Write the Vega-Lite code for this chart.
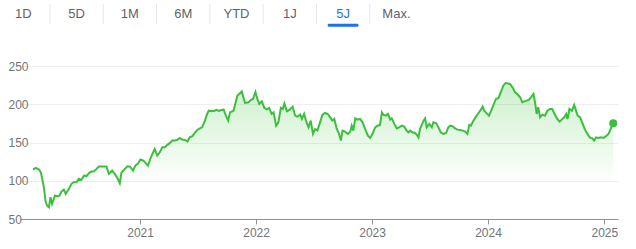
{
  "$schema": "https://vega.github.io/schema/vega-lite/v6.json",
  "padding": {"left": 8, "top": 3, "right": 18, "bottom": 5},
  "background": "white",
  "spacing": 42,
  "bounds": "flush",
  "config": {"view": {"stroke": null}, "font": "Liberation Sans"},
  "datasets": {
    "tabs": [
      {"tab": "1D", "i": 0}, {"tab": "5D", "i": 1}, {"tab": "1M", "i": 2}, {"tab": "6M", "i": 3},
      {"tab": "YTD", "i": 4}, {"tab": "1J", "i": 5}, {"tab": "5J", "i": 6}, {"tab": "Max.", "i": 7}
    ],
    "separators": [
      {"pos": 0.5}, {"pos": 1.5}, {"pos": 2.5}, {"pos": 3.5}, {"pos": 4.5}, {"pos": 5.5}, {"pos": 6.5}
    ],
    "prices": [
      {"date": "2020/01/30", "price": 114.6}, {"date": "2020/02/07", "price": 116.8}, {"date": "2020/02/18", "price": 114.6},
      {"date": "2020/02/24", "price": 110.3}, {"date": "2020/03/02", "price": 96.0}, {"date": "2020/03/05", "price": 89.4},
      {"date": "2020/03/09", "price": 74.0}, {"date": "2020/03/14", "price": 67.6}, {"date": "2020/03/20", "price": 65.4},
      {"date": "2020/03/25", "price": 78.5}, {"date": "2020/03/30", "price": 69.8}, {"date": "2020/04/08", "price": 80.7},
      {"date": "2020/04/16", "price": 79.4}, {"date": "2020/04/23", "price": 80.7}, {"date": "2020/04/28", "price": 85.9},
      {"date": "2020/05/06", "price": 88.5}, {"date": "2020/05/12", "price": 82.9}, {"date": "2020/05/22", "price": 89.4},
      {"date": "2020/05/30", "price": 96.0}, {"date": "2020/06/06", "price": 98.0}, {"date": "2020/06/15", "price": 98.0},
      {"date": "2020/06/22", "price": 102.5}, {"date": "2020/06/30", "price": 101.2}, {"date": "2020/07/09", "price": 106.8},
      {"date": "2020/07/16", "price": 105.9}, {"date": "2020/07/25", "price": 110.3}, {"date": "2020/08/01", "price": 112.0},
      {"date": "2020/08/09", "price": 112.4}, {"date": "2020/08/17", "price": 115.5}, {"date": "2020/08/24", "price": 118.5},
      {"date": "2020/09/01", "price": 118.5}, {"date": "2020/09/12", "price": 118.5}, {"date": "2020/09/17", "price": 118.5},
      {"date": "2020/09/25", "price": 109.0}, {"date": "2020/09/30", "price": 111.1}, {"date": "2020/10/05", "price": 113.3},
      {"date": "2020/10/13", "price": 109.0}, {"date": "2020/10/22", "price": 103.3}, {"date": "2020/10/29", "price": 96.7},
      {"date": "2020/11/03", "price": 110.3}, {"date": "2020/11/14", "price": 115.5}, {"date": "2020/11/22", "price": 118.9},
      {"date": "2020/11/30", "price": 118.5}, {"date": "2020/12/10", "price": 113.3}, {"date": "2020/12/17", "price": 119.8},
      {"date": "2020/12/26", "price": 122.8}, {"date": "2021/01/02", "price": 127.7}, {"date": "2021/01/11", "price": 126.4},
      {"date": "2021/01/18", "price": 123.4}, {"date": "2021/01/26", "price": 119.8}, {"date": "2021/02/04", "price": 130.7},
      {"date": "2021/02/11", "price": 137.2}, {"date": "2021/02/16", "price": 141.6}, {"date": "2021/02/24", "price": 132.9},
      {"date": "2021/03/04", "price": 137.2}, {"date": "2021/03/12", "price": 143.7}, {"date": "2021/03/20", "price": 143.7},
      {"date": "2021/03/28", "price": 146.9}, {"date": "2021/04/05", "price": 149.5}, {"date": "2021/04/12", "price": 152.5},
      {"date": "2021/04/20", "price": 152.5}, {"date": "2021/04/28", "price": 153.4}, {"date": "2021/05/06", "price": 156.0},
      {"date": "2021/05/13", "price": 153.8}, {"date": "2021/05/22", "price": 153.4}, {"date": "2021/05/30", "price": 151.2},
      {"date": "2021/06/06", "price": 156.8}, {"date": "2021/06/14", "price": 158.1}, {"date": "2021/06/22", "price": 162.5},
      {"date": "2021/06/30", "price": 166.4}, {"date": "2021/07/08", "price": 168.5}, {"date": "2021/07/15", "price": 169.8},
      {"date": "2021/07/24", "price": 178.6}, {"date": "2021/07/31", "price": 187.3}, {"date": "2021/08/05", "price": 191.6},
      {"date": "2021/08/13", "price": 191.2}, {"date": "2021/08/22", "price": 191.2}, {"date": "2021/08/29", "price": 192.6},
      {"date": "2021/09/06", "price": 191.2}, {"date": "2021/09/14", "price": 192.6}, {"date": "2021/09/21", "price": 192.9},
      {"date": "2021/09/28", "price": 185.1}, {"date": "2021/10/05", "price": 178.6}, {"date": "2021/10/11", "price": 189.4},
      {"date": "2021/10/22", "price": 191.6}, {"date": "2021/11/03", "price": 211.0}, {"date": "2021/11/17", "price": 216.8},
      {"date": "2021/11/27", "price": 201.7}, {"date": "2021/12/08", "price": 202.5}, {"date": "2021/12/15", "price": 205.6},
      {"date": "2021/12/22", "price": 206.9}, {"date": "2021/12/30", "price": 216.0}, {"date": "2022/01/05", "price": 207.0},
      {"date": "2022/01/11", "price": 200.4}, {"date": "2022/01/19", "price": 203.8}, {"date": "2022/01/27", "price": 195.2},
      {"date": "2022/02/04", "price": 193.4}, {"date": "2022/02/11", "price": 195.2}, {"date": "2022/02/19", "price": 187.3},
      {"date": "2022/02/25", "price": 189.4}, {"date": "2022/03/05", "price": 172.0}, {"date": "2022/03/12", "price": 176.4},
      {"date": "2022/03/20", "price": 195.2}, {"date": "2022/03/26", "price": 193.8}, {"date": "2022/03/31", "price": 201.1},
      {"date": "2022/04/08", "price": 190.7}, {"date": "2022/04/16", "price": 192.6}, {"date": "2022/04/26", "price": 196.9},
      {"date": "2022/05/04", "price": 185.1}, {"date": "2022/05/11", "price": 183.8}, {"date": "2022/05/20", "price": 186.4},
      {"date": "2022/05/25", "price": 180.8}, {"date": "2022/06/01", "price": 187.3}, {"date": "2022/06/07", "price": 178.6},
      {"date": "2022/06/15", "price": 169.8}, {"date": "2022/06/22", "price": 178.6}, {"date": "2022/06/29", "price": 161.2},
      {"date": "2022/07/06", "price": 167.7}, {"date": "2022/07/13", "price": 165.5}, {"date": "2022/07/21", "price": 176.0},
      {"date": "2022/07/29", "price": 186.4}, {"date": "2022/08/06", "price": 188.6}, {"date": "2022/08/15", "price": 187.3},
      {"date": "2022/08/22", "price": 182.9}, {"date": "2022/08/29", "price": 178.6}, {"date": "2022/09/04", "price": 180.8},
      {"date": "2022/09/12", "price": 167.7}, {"date": "2022/09/19", "price": 161.2}, {"date": "2022/09/25", "price": 152.5},
      {"date": "2022/09/30", "price": 165.5}, {"date": "2022/10/08", "price": 164.2}, {"date": "2022/10/17", "price": 161.2},
      {"date": "2022/10/24", "price": 164.2}, {"date": "2022/10/29", "price": 172.0}, {"date": "2022/11/03", "price": 165.5},
      {"date": "2022/11/09", "price": 181.6}, {"date": "2022/11/16", "price": 179.9}, {"date": "2022/11/24", "price": 180.8},
      {"date": "2022/12/02", "price": 176.4}, {"date": "2022/12/10", "price": 167.7}, {"date": "2022/12/19", "price": 159.0},
      {"date": "2022/12/26", "price": 156.0}, {"date": "2023/01/02", "price": 161.2}, {"date": "2023/01/11", "price": 169.8},
      {"date": "2023/01/18", "price": 172.0}, {"date": "2023/01/26", "price": 173.0}, {"date": "2023/02/01", "price": 189.4},
      {"date": "2023/02/06", "price": 186.0}, {"date": "2023/02/13", "price": 185.1}, {"date": "2023/02/20", "price": 187.3},
      {"date": "2023/02/27", "price": 179.9}, {"date": "2023/03/04", "price": 181.6}, {"date": "2023/03/12", "price": 174.3},
      {"date": "2023/03/20", "price": 168.5}, {"date": "2023/03/27", "price": 169.8}, {"date": "2023/04/05", "price": 172.0},
      {"date": "2023/04/12", "price": 170.7}, {"date": "2023/04/20", "price": 165.5}, {"date": "2023/04/25", "price": 163.3},
      {"date": "2023/05/01", "price": 165.5}, {"date": "2023/05/08", "price": 163.3}, {"date": "2023/05/16", "price": 162.5},
      {"date": "2023/05/22", "price": 159.9}, {"date": "2023/05/27", "price": 156.8}, {"date": "2023/06/01", "price": 167.7},
      {"date": "2023/06/12", "price": 178.6}, {"date": "2023/06/17", "price": 181.6}, {"date": "2023/06/22", "price": 169.8},
      {"date": "2023/06/30", "price": 174.3}, {"date": "2023/07/08", "price": 169.8}, {"date": "2023/07/13", "price": 176.4},
      {"date": "2023/07/22", "price": 175.1}, {"date": "2023/07/29", "price": 169.8}, {"date": "2023/08/05", "price": 163.3},
      {"date": "2023/08/13", "price": 161.2}, {"date": "2023/08/22", "price": 162.5}, {"date": "2023/08/29", "price": 169.8},
      {"date": "2023/09/04", "price": 172.0}, {"date": "2023/09/12", "price": 171.1}, {"date": "2023/09/19", "price": 168.5},
      {"date": "2023/09/27", "price": 166.8}, {"date": "2023/10/05", "price": 166.4}, {"date": "2023/10/14", "price": 165.5},
      {"date": "2023/10/21", "price": 164.2}, {"date": "2023/10/28", "price": 161.2}, {"date": "2023/11/03", "price": 173.0},
      {"date": "2023/11/08", "price": 172.0}, {"date": "2023/11/16", "price": 178.6}, {"date": "2023/11/24", "price": 183.8},
      {"date": "2023/12/02", "price": 188.6}, {"date": "2023/12/09", "price": 192.6}, {"date": "2023/12/15", "price": 196.9},
      {"date": "2023/12/20", "price": 191.6}, {"date": "2023/12/28", "price": 188.1}, {"date": "2024/01/04", "price": 185.1},
      {"date": "2024/01/11", "price": 191.6}, {"date": "2024/01/18", "price": 199.1}, {"date": "2024/01/26", "price": 206.9},
      {"date": "2024/02/03", "price": 208.2}, {"date": "2024/02/10", "price": 215.5}, {"date": "2024/02/18", "price": 224.3},
      {"date": "2024/02/25", "price": 227.8}, {"date": "2024/03/03", "price": 227.3}, {"date": "2024/03/10", "price": 226.5},
      {"date": "2024/03/18", "price": 222.1}, {"date": "2024/03/26", "price": 215.5}, {"date": "2024/04/02", "price": 213.4},
      {"date": "2024/04/11", "price": 209.0}, {"date": "2024/04/18", "price": 202.5}, {"date": "2024/04/24", "price": 203.8},
      {"date": "2024/05/02", "price": 204.7}, {"date": "2024/05/09", "price": 206.0}, {"date": "2024/05/15", "price": 209.0},
      {"date": "2024/05/23", "price": 213.4}, {"date": "2024/05/28", "price": 202.5}, {"date": "2024/06/02", "price": 187.3},
      {"date": "2024/06/07", "price": 196.0}, {"date": "2024/06/13", "price": 182.9}, {"date": "2024/06/20", "price": 186.4},
      {"date": "2024/06/28", "price": 185.1}, {"date": "2024/07/06", "price": 191.6}, {"date": "2024/07/14", "price": 193.8},
      {"date": "2024/07/21", "price": 193.8}, {"date": "2024/07/30", "price": 186.0}, {"date": "2024/08/06", "price": 180.8},
      {"date": "2024/08/13", "price": 177.3}, {"date": "2024/08/20", "price": 179.9}, {"date": "2024/08/28", "price": 182.9},
      {"date": "2024/09/03", "price": 187.3}, {"date": "2024/09/07", "price": 180.8}, {"date": "2024/09/13", "price": 193.8},
      {"date": "2024/09/21", "price": 191.6}, {"date": "2024/09/28", "price": 199.1}, {"date": "2024/10/04", "price": 191.6},
      {"date": "2024/10/09", "price": 185.1}, {"date": "2024/10/17", "price": 182.9}, {"date": "2024/10/25", "price": 174.3},
      {"date": "2024/11/01", "price": 166.8}, {"date": "2024/11/09", "price": 161.2}, {"date": "2024/11/17", "price": 156.0},
      {"date": "2024/11/24", "price": 155.5}, {"date": "2024/11/30", "price": 152.5}, {"date": "2024/12/06", "price": 156.8},
      {"date": "2024/12/13", "price": 156.0}, {"date": "2024/12/21", "price": 156.8}, {"date": "2024/12/29", "price": 156.0},
      {"date": "2025/01/06", "price": 158.1}, {"date": "2025/01/14", "price": 161.2}, {"date": "2025/01/21", "price": 167.7},
      {"date": "2025/01/29", "price": 175.1}
    ]
  },
  "vconcat": [
    {
      "width": 400,
      "height": 20,
      "layer": [
        {
          "data": {"name": "separators"},
          "mark": {"type": "rule", "color": "#e6e6e6", "strokeWidth": 1},
          "encoding": {
            "x": {"field": "pos", "type": "quantitative", "scale": {"domain": [-0.0619, 7.4428], "nice": false, "zero": false}, "axis": null}
          }
        },
        {
          "data": {"name": "tabs"},
          "mark": {"type": "text", "fontSize": 13, "baseline": "middle", "align": "center"},
          "encoding": {
            "x": {"field": "i", "type": "quantitative"},
            "text": {"field": "tab"},
            "color": {"condition": {"test": "datum.tab === '5J'", "value": "#1a73e8"}, "value": "#5f6368"}
          }
        },
        {
          "data": {"name": "tabs"},
          "transform": [{"filter": "datum.tab === '5J'"}],
          "mark": {"type": "tick", "orient": "horizontal", "size": 31, "thickness": 3, "color": "#1a73e8", "cornerRadius": 1.5, "yOffset": 1.3, "opacity": 1},
          "encoding": {
            "x": {"field": "i", "type": "quantitative"},
            "y": {"value": "height"}
          }
        }
      ]
    },
    {
      "width": 598,
      "height": 153,
      "data": {"name": "prices"},
      "encoding": {
        "x": {
          "field": "date", "type": "temporal",
          "scale": {"domain": [{"year": 2019, "month": 12, "date": 20}, {"year": 2025, "month": 2, "date": 13}]},
          "axis": {
            "title": null, "format": "%Y", "grid": false,
            "values": [{"year": 2021, "month": 1, "date": 1}, {"year": 2022, "month": 1, "date": 1}, {"year": 2023, "month": 1, "date": 1}, {"year": 2024, "month": 1, "date": 1}, {"year": 2025, "month": 1, "date": 1}],
            "labelFontSize": 12, "labelColor": "#70757a", "domainColor": "#8f9499", "tickColor": "#8f9499",
            "tickSize": 5, "labelPadding": 3, "labelFlush": false, "labelOverlap": false
          }
        },
        "y": {
          "field": "price", "type": "quantitative",
          "scale": {"domain": [50, 250], "nice": false, "zero": false},
          "axis": {
            "title": null, "values": [50, 100, 150, 200, 250], "domain": false, "ticks": false, "tickSize": 0,
            "labelAlign": "left", "labelPadding": 12, "labelBaseline": "middle",
            "labelFontSize": 12, "labelColor": "#70757a", "gridColor": "#eeeeee"
          }
        }
      },
      "layer": [
        {
          "mark": {
            "type": "area",
            "color": {
              "gradient": "linear", "x1": 0, "y1": 0, "x2": 0, "y2": 1,
              "stops": [
                {"offset": 0, "color": "rgba(70,200,70,0.28)"},
                {"offset": 0.75, "color": "rgba(70,200,70,0)"}
              ]
            }
          },
          "encoding": {"y2": {"datum": 50}}
        },
        {
          "mark": {"type": "line", "color": "#3cbf3c", "strokeWidth": 2}
        },
        {
          "transform": [{"filter": {"field": "date", "equal": {"year": 2025, "month": 1, "date": 29}}}],
          "mark": {"type": "point", "filled": true, "size": 64, "color": "#3cbf3c", "opacity": 1}
        }
      ]
    }
  ]
}
